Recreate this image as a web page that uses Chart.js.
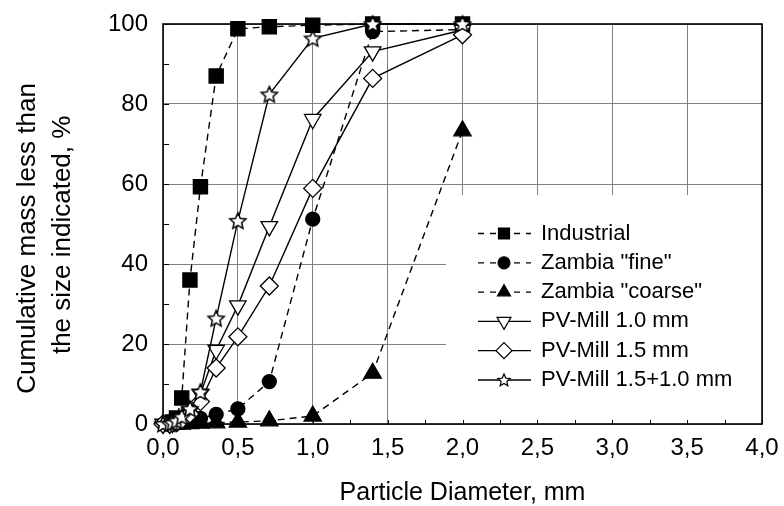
<!DOCTYPE html>
<html><head><meta charset="utf-8">
<script src="https://cdn.jsdelivr.net/npm/chart.js@4.4.1/dist/chart.umd.min.js"></script>
<style>html,body{margin:0;padding:0;background:#fff;}#wrap{width:784px;height:506px;}</style>
</head><body><div id="wrap"><canvas id="c" width="784" height="506"></canvas></div>
<script>
// ---- data ----
const sizes = [0, 0.045, 0.063, 0.09, 0.125, 0.18, 0.25, 0.355, 0.5, 0.71, 1.0, 1.4, 2.0];
const industrial   = [null, 0.2, 0.5, 1.5, 6.5, 36, 59.3, 87, 98.8, 99.3, 99.7, 100, 100];
const zambiaFine   = [null, 0, 0, 0.2, 0.4, 0.8, 1.4, 2.4, 3.8, 10.6, 51.2, 98.1, 98.6];
const zambiaCoarse = [null, 0, 0, 0, 0, 0.1, 0.2, 0.3, 0.5, 0.8, 2.0, 12.7, 73.3];
const pvMill10     = [0, 0, 0.2, 0.5, 1.2, 3, 7.5, 18.5, 29.6, 49.4, 76.2, 93.1, 98.5];
const pvMill15     = [0, 0, 0.2, 0.4, 1, 2.5, 5.6, 14, 21.8, 34.5, 58.9, 86.4, 97.3];
const pvMill1510   = [0, 0.1, 0.3, 0.8, 1.8, 3.8, 8, 26.4, 50.8, 82.4, 96.4, 100, 100];
const seriesLabels = ['Industrial', 'Zambia "fine"', 'Zambia "coarse"', 'PV-Mill 1.0 mm', 'PV-Mill 1.5 mm', 'PV-Mill 1.5+1.0 mm'];
const xTickLabels = ['0,0','0,5','1,0','1,5','2,0','2,5','3,0','3,5','4,0'];
const yTickLabels = ['0','20','40','60','80','100'];
const xTitle = 'Particle Diameter, mm';
const yTitle = ['Cumulative mass less than    ', 'the size indicated, %   '];

const FONT = "'Liberation Sans', Arial, Helvetica, sans-serif";

function makeStar(outer, inner, lw) {
  const s = Math.ceil(outer * 2 + lw * 2 + 2);
  const c = document.createElement('canvas');
  c.width = s; c.height = s;
  const g = c.getContext('2d');
  g.translate(s / 2, s / 2 + outer * 0.08);
  g.beginPath();
  for (let i = 0; i < 10; i++) {
    const r = i % 2 ? inner : outer;
    const a = -Math.PI / 2 + i * Math.PI / 5;
    g.lineTo(r * Math.cos(a), r * Math.sin(a));
  }
  g.closePath();
  g.fillStyle = '#fff'; g.fill();
  g.lineWidth = lw; g.strokeStyle = '#000'; g.stroke();
  return c;
}
const starBig = makeStar(8.5, 4, 1.5);
const starSmall = makeStar(6.5, 3, 1.2);

function pts(vals) { return sizes.map((s, i) => ({x: s, y: vals[i]})); }

const dashed = [7, 5];
const datasets = [
  {label: seriesLabels[0], data: pts(industrial), borderDash: dashed, pointStyle: 'rect', pointRadius: 10, pointBackgroundColor: '#000', order: 5},
  {label: seriesLabels[1], data: pts(zambiaFine), borderDash: dashed, pointStyle: 'circle', pointRadius: 7, pointBackgroundColor: '#000', order: 4},
  {label: seriesLabels[2], data: pts(zambiaCoarse), borderDash: dashed, pointStyle: 'triangle', pointRadius: 10, pointBackgroundColor: '#000', order: 3},
  {label: seriesLabels[3], data: pts(pvMill10), borderDash: [], pointStyle: 'triangle', pointRotation: 180, pointRadius: 9.5, pointBackgroundColor: '#fff', order: 2},
  {label: seriesLabels[4], data: pts(pvMill15), borderDash: [], pointStyle: 'rectRot', pointRadius: 9, pointBackgroundColor: '#fff', order: 1},
  {label: seriesLabels[5], data: pts(pvMill1510), borderDash: [], pointStyle: starBig, pointRadius: 9, pointBackgroundColor: '#fff', order: 0}
].map(d => Object.assign({
  showLine: true, borderColor: '#000', borderWidth: 1.4, pointBorderColor: '#000',
  pointBorderWidth: 1.3, tension: 0, clip: false, spanGaps: false, fill: false
}, d));

const legendMarkers = [
  {type: 'rect', r: 5.5, fill: '#000'},
  {type: 'circle', r: 6, fill: '#000'},
  {type: 'tri', r: 7.5, fill: '#000'},
  {type: 'triDown', r: 8, fill: '#fff'},
  {type: 'diamond', r: 8, fill: '#fff'},
  {type: 'star'}
];

function drawMarker(ctx, m, x, y) {
  ctx.save();
  ctx.lineWidth = 1.2; ctx.strokeStyle = '#000'; ctx.fillStyle = m.fill || '#fff';
  ctx.beginPath();
  if (m.type === 'rect') { ctx.rect(x - m.r, y - m.r, 2 * m.r, 2 * m.r); }
  else if (m.type === 'circle') { ctx.arc(x, y, m.r, 0, Math.PI * 2); }
  else if (m.type === 'tri' || m.type === 'triDown') {
    const s = m.type === 'tri' ? 1 : -1;
    for (let k = 0; k < 3; k++) {
      const a = k * 2 * Math.PI / 3;
      ctx.lineTo(x + Math.sin(a) * m.r, y - s * Math.cos(a) * m.r);
    }
    ctx.closePath();
  } else if (m.type === 'diamond') {
    ctx.moveTo(x, y - m.r); ctx.lineTo(x + m.r, y); ctx.lineTo(x, y + m.r); ctx.lineTo(x - m.r, y); ctx.closePath();
  } else if (m.type === 'star') {
    ctx.drawImage(starSmall, x - starSmall.width / 2, y - starSmall.height / 2);
    ctx.restore(); return;
  }
  ctx.fill(); ctx.stroke();
  ctx.restore();
}

const LEG = {boxL: 446, boxT: 195, y0: 233.5, dy: 29.3, x0: 478, x1: 531, mx: 504, tx: 541};

const framePlugin = {
  id: 'frameAndLegend',
  beforeDatasetsDraw(chart) {
    const {ctx, chartArea: a, scales: {x, y}} = chart;
    ctx.save();
    // white legend background covering grid
    ctx.fillStyle = '#fff';
    ctx.fillRect(LEG.boxL, LEG.boxT, a.right - LEG.boxL, a.bottom - LEG.boxT);
    ctx.strokeStyle = '#000';
    ctx.lineWidth = 1;
    ctx.beginPath();
    for (let v = 0; v <= 100; v += 10) {
      const py = Math.round(y.getPixelForValue(v)) + 0.5;
      ctx.moveTo(a.left, py); ctx.lineTo(a.left + 6, py);
    }
    for (let v = 0; v <= 4.0001; v += 0.25) {
      const px = Math.round(x.getPixelForValue(v)) + 0.5;
      ctx.moveTo(px, a.bottom); ctx.lineTo(px, a.bottom - 4);
    }
    ctx.stroke();
    ctx.lineWidth = 1.6;
    ctx.strokeRect(a.left, a.top, a.right - a.left, a.bottom - a.top);
    ctx.restore();
  },
  afterDatasetsDraw(chart) {
    const ctx = chart.ctx;
    ctx.save();
    chart.data.datasets.forEach((ds, i) => {
      const yy = LEG.y0 + i * LEG.dy;
      ctx.strokeStyle = '#000'; ctx.lineWidth = 1.3;
      ctx.setLineDash(ds.borderDash && ds.borderDash.length ? [6, 6] : []);
      ctx.beginPath(); ctx.moveTo(LEG.x0, yy); ctx.lineTo(LEG.x1, yy); ctx.stroke();
      ctx.setLineDash([]);
      drawMarker(ctx, legendMarkers[i], LEG.mx, yy);
      ctx.fillStyle = '#000'; ctx.font = '22px ' + FONT;
      ctx.textBaseline = 'middle'; ctx.textAlign = 'left';
      ctx.fillText(ds.label, LEG.tx, yy);
    });
    ctx.restore();
  }
};

function noPad(s) { s.paddingTop = 0; s.paddingBottom = 0; s.paddingLeft = 0; s.paddingRight = 0; }

new Chart(document.getElementById('c'), {
  type: 'line',
  data: {datasets},
  options: {
    responsive: false, animation: false, devicePixelRatio: 1, events: [],
    layout: {autoPadding: false, padding: {top: 24, right: 22, left: 0, bottom: 0}},
    plugins: {legend: {display: false}, tooltip: {enabled: false}, title: {display: false}},
    scales: {
      x: {
        type: 'linear', min: 0, max: 4,
        ticks: {stepSize: 0.5, color: '#000', padding: 10, font: {family: FONT, size: 24},
          maxRotation: 0, autoSkip: false,
          callback: (v) => xTickLabels[Math.round(v / 0.5)] },
        grid: {color: '#808080', lineWidth: 1, drawTicks: false},
        border: {display: false},
        title: {display: true, text: xTitle, color: '#000', font: {family: FONT, size: 25, lineHeight: 1}, padding: {top: 0, bottom: 0}},
        afterFit: (s) => { s.height = 82; noPad(s); }
      },
      y: {
        type: 'linear', min: 0, max: 100,
        ticks: {stepSize: 20, color: '#000', padding: 15, font: {family: FONT, size: 24},
          callback: (v) => yTickLabels[Math.round(v / 20)] },
        grid: {color: '#808080', lineWidth: 1, drawTicks: false},
        border: {display: false},
        title: {display: true, text: yTitle, color: '#000', font: {family: FONT, size: 26, lineHeight: 1.35}, padding: {top: 10.5, bottom: 0}},
        afterFit: (s) => { s.width = 163; noPad(s); }
      }
    }
  },
  plugins: [framePlugin]
});
</script>
</body></html>
